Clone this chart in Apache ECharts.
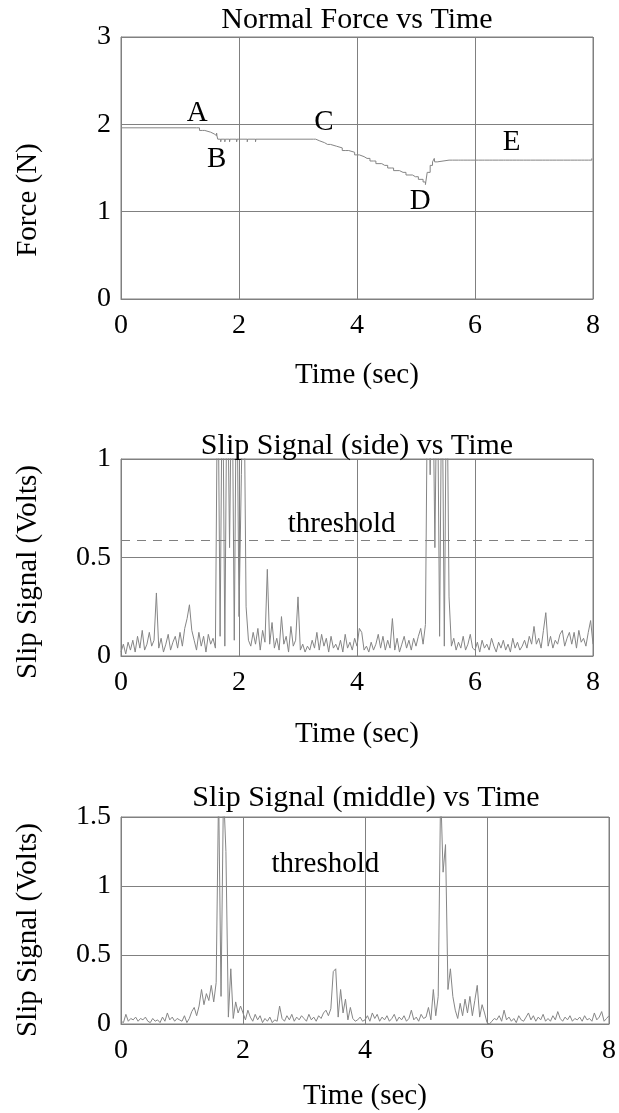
<!DOCTYPE html>
<html>
<head>
<meta charset="utf-8">
<script src="https://cdn.jsdelivr.net/npm/echarts@6/dist/echarts.min.js"></script>
<style>
  html, body { margin: 0; padding: 0; background: #fff; }
  #chart { width: 619px; height: 1113px; }
</style>
</head>
<body>
<div id="chart"></div>
<script>
// sampling step of the two slip signals (sec)
var timeStep = 0.04;

// normal force: [time, level] where the level changes (held until next point)
var forceSteps = [
  [0.00, 1.96], [1.33, 1.93], [1.42, 1.91], [1.52, 1.89], [1.58, 1.87], [1.64, 1.83],
  [3.30, 1.81], [3.37, 1.79], [3.45, 1.77], [3.55, 1.75], [3.65, 1.73], [3.75, 1.70],
  [3.86, 1.68], [3.96, 1.65], [4.04, 1.63], [4.12, 1.61], [4.22, 1.58], [4.32, 1.55],
  [4.42, 1.53], [4.52, 1.50], [4.62, 1.47], [4.72, 1.45], [4.83, 1.42], [4.94, 1.40],
  [5.04, 1.37], [5.12, 1.34], [5.19, 1.45], [5.24, 1.53], [5.28, 1.57], [5.36, 1.59],
  [8.00, 1.59]
];
// single-sample glitches on the force trace: [time, value]
var forceTicks = [
  [1.28, 1.98], [1.38, 1.95], [1.62, 1.90],
  [1.69, 1.80], [1.76, 1.80], [1.84, 1.80], [1.96, 1.80], [2.14, 1.80], [2.28, 1.80],
  [3.22, 1.85], [3.26, 1.85], [3.50, 1.76], [3.80, 1.71], [4.17, 1.62], [4.28, 1.59],
  [4.47, 1.54], [4.58, 1.51], [4.78, 1.46], [4.99, 1.41], [5.16, 1.31], [5.31, 1.61],
  [5.56, 1.61], [5.62, 1.61], [5.66, 1.61], [5.72, 1.61], [5.76, 1.61], [5.80, 1.61],
  [5.88, 1.61], [5.93, 1.61], [6.06, 1.61], [6.12, 1.61], [6.16, 1.61], [6.24, 1.61],
  [6.30, 1.61], [6.40, 1.61], [6.48, 1.61], [6.52, 1.61], [6.58, 1.61], [6.64, 1.61],
  [6.70, 1.61], [6.76, 1.61], [6.82, 1.61], [6.88, 1.61], [6.94, 1.61], [7.02, 1.61],
  [7.14, 1.61], [7.20, 1.61], [7.26, 1.61], [7.32, 1.61], [7.38, 1.61], [7.44, 1.61],
  [7.50, 1.61], [7.56, 1.61], [7.62, 1.61], [7.68, 1.61], [7.74, 1.61], [7.80, 1.61],
  [7.86, 1.61], [7.92, 1.61], [7.98, 1.61]
];
var forceLabels = ['A', 'B', 'C', 'D', 'E'];
var forceLabelTime = [1.29, 1.62, 3.44, 5.07, 6.62];
var forceLabelValue = [2.13, 1.60, 2.02, 1.12, 1.79];

// slip signal (side), one value every timeStep from 0 to 8 s
var slipSide = [
  0.02,0.06,0.01,0.07,0.03,0.08,0.02,0.10,0.04,0.13,0.03,0.06,0.12,0.05,0.08,0.32,0.04,0.09,0.02,0.06,0.11,0.03,0.07,0.10,0.04,
  0.12,0.05,0.14,0.19,0.26,0.13,0.08,0.03,0.12,0.05,0.10,0.02,0.11,0.06,0.09,0.04,
  1.6,0.10,1.6,0.05,1.6,0.55,1.6,0.08,1.6,0.20,0.92,1.6,0.25,
  0.08,0.05,0.12,0.06,0.14,0.03,0.13,0.07,0.44,0.06,0.17,0.04,0.09,0.03,0.20,0.06,0.10,0.02,0.15,0.05,0.08,
  0.30,0.03,0.06,0.02,0.05,0.03,0.08,0.04,0.12,0.03,0.11,0.05,0.09,0.02,0.10,0.04,0.06,0.03,0.08,0.02,0.11,0.04,0.07,0.03,0.09,
  0.05,0.14,0.12,0.03,0.05,0.02,0.07,0.03,0.06,0.11,0.04,0.10,0.03,0.08,0.04,0.19,0.03,0.09,0.02,0.06,0.10,0.04,0.08,0.03,0.09,
  0.05,0.10,0.14,0.06,0.16,1.6,0.92,1.6,0.55,1.6,0.10,1.6,0.05,1.6,0.30,0.05,0.09,0.03,0.07,0.04,0.10,0.03,0.06,0.11,0.04,
  0.03,0.07,0.02,0.08,0.04,0.06,0.03,0.09,0.05,0.02,0.07,0.04,0.08,0.03,0.06,0.02,0.09,0.04,0.07,0.03,0.05,0.08,0.04,0.10,0.06,
  0.15,0.06,0.09,0.04,0.13,0.22,0.05,0.10,0.04,0.08,0.06,0.11,0.13,0.05,0.09,0.12,0.06,0.12,0.04,0.13,0.07,0.09,0.05,0.12,0.18,0.06
];
var sideThreshold = 0.59;

// slip signal (middle), one value every timeStep from 0 to 8 s
var slipMiddle = [
  0.02,0.01,0.07,0.02,0.04,0.03,0.05,0.02,0.04,0.03,0.05,0.02,0.01,0.04,0.02,0.03,0.01,0.05,0.02,0.08,0.03,0.05,0.02,0.04,0.03,
  0.02,0.06,0.01,0.04,0.09,0.12,0.06,0.13,0.25,0.14,0.22,0.17,0.28,0.16,0.30,
  1.7,0.20,1.7,1.25,0.05,0.40,
  0.04,0.16,0.08,0.13,
  0.08,0.03,0.10,0.05,0.02,0.07,0.03,0.06,0.01,0.04,0.02,0.05,0.01,0.03,0.02,0.13,0.04,0.02,0.06,0.03,0.07,0.02,0.05,0.03,0.06,
  0.04,0.02,0.07,0.03,0.05,0.02,0.06,0.04,0.08,0.10,0.06,0.11,0.38,0.40,0.05,0.25,0.08,0.18,0.03,0.12,0.04,0.02,0.03,0.05,0.02,
  0.03,0.06,0.02,0.08,0.04,0.07,0.02,0.05,0.03,0.06,0.02,0.04,0.07,0.02,0.05,0.03,0.06,0.02,0.04,0.10,0.03,0.05,0.02,0.07,0.04,
  0.05,0.12,0.03,0.25,0.06,0.20,1.7,1.10,1.30,0.25,0.40,0.20,0.10,0.04,0.15,0.06,0.18,0.08,0.20,0.06,0.17,0.28,0.05,0.14,0.08,
  0.01,0.00,0.02,0.04,0.03,0.06,0.02,0.10,0.03,0.05,0.02,0.04,0.01,0.06,0.03,0.02,0.05,0.08,0.03,0.06,0.02,0.05,0.03,0.07,0.02,
  0.04,0.02,0.06,0.03,0.09,0.04,0.02,0.05,0.03,0.06,0.02,0.04,0.03,0.05,0.02,0.06,0.03,0.04,0.02,0.08,0.03,0.05,0.09,0.02,0.04,0.06
];

var thresholdTime = [3.74, 3.35];
var thresholdValue = [0.67, 1.16];

var gray = '#808080';
var font = 'Liberation Serif';

function withTime (values) {
  return values.map(function (v, i) { return [+(i * timeStep).toFixed(2), v]; });
}

// merge the glitches into the step trace as very narrow pulses
function buildForce () {
  var pts = forceSteps.map(function (p) { return { t: p[0], v: p[1] }; });
  forceTicks.forEach(function (tk) {
    var level = forceSteps[0][1];
    forceSteps.forEach(function (p) { if (p[0] <= tk[0]) level = p[1]; });
    pts.push({ t: tk[0], v: tk[1], o: 0 });
    pts.push({ t: tk[0] + 0.006, v: level, o: 1 });
  });
  pts.sort(function (a, b) { return a.t - b.t || (a.o || 0) - (b.o || 0); });
  return pts.map(function (p) { return [p.t, p.v]; });
}

function xAxis (gi, gap) {
  return {
    type: 'value', gridIndex: gi, min: 0, max: 8, interval: 2,
    name: 'Time (sec)', nameLocation: 'middle', nameGap: gap,
    nameTextStyle: { fontFamily: font, fontSize: 29, color: '#000' },
    axisLine: { show: true, lineStyle: { color: gray } },
    axisTick: { show: false },
    axisLabel: { margin: 13, fontFamily: font, fontSize: 28, color: '#000' },
    splitLine: { show: true, lineStyle: { color: gray, width: 1 } }
  };
}
function yAxis (gi, max, interval) {
  return {
    type: 'value', gridIndex: gi, min: 0, max: max, interval: interval,
    axisLine: { show: true, lineStyle: { color: gray } },
    axisTick: { show: false },
    axisLabel: { margin: 10, fontFamily: font, fontSize: 28, color: '#000' },
    splitLine: { show: true, lineStyle: { color: gray, width: 1 } }
  };
}
function title (text, cx, top) {
  return {
    text: text, left: cx, top: top, textAlign: 'center', padding: 0,
    textStyle: { fontFamily: font, fontSize: 30, fontWeight: 'normal', color: '#000' }
  };
}
function yName (text, x, y) {
  return {
    type: 'text', x: x, y: y, rotation: Math.PI / 2,
    style: { text: text, font: '29px "' + font + '"', fill: '#000', align: 'center', verticalAlign: 'middle' }
  };
}
function textMarks (xi, names, times, values) {
  return {
    type: 'scatter', xAxisIndex: xi, yAxisIndex: xi, symbolSize: 0, silent: true,
    itemStyle: { opacity: 1 },
    data: names.map(function (n, i) { return { name: n, value: [times[i], values[i]] }; }),
    label: { show: true, position: 'inside', formatter: '{b}', fontFamily: font, fontSize: 29, color: '#000' }
  };
}
var lineStyle = { color: '#858585', width: 1 };

var chart = echarts.init(document.getElementById('chart'));
chart.setOption({
  animation: false,
  backgroundColor: '#fff',
  title: [
    title('Normal Force vs Time', 357, 5),
    title('Slip Signal (side) vs Time', 357, 431),
    title('Slip Signal (middle) vs Time', 366, 783)
  ],
  grid: [
    { left: 121, top: 37, width: 472, height: 262, show: true, borderColor: gray, borderWidth: 1 },
    { left: 121, top: 459, width: 472, height: 197, show: true, borderColor: gray, borderWidth: 1 },
    { left: 121, top: 817, width: 490, height: 207, show: true, borderColor: gray, borderWidth: 1 }
  ],
  xAxis: [xAxis(0, 62), xAxis(1, 64), xAxis(2, 58)],
  yAxis: [yAxis(0, 3, 1), yAxis(1, 1, 0.5), yAxis(2, 1.5, 0.5)],
  graphic: [
    yName('Force (N)', 28, 200),
    yName('Slip Signal (Volts)', 28, 572),
    yName('Slip Signal (Volts)', 28, 930)
  ],
  series: [
    {
      type: 'line', xAxisIndex: 0, yAxisIndex: 0, step: 'end', symbol: 'none',
      data: buildForce(), lineStyle: lineStyle, clip: true
    },
    textMarks(0, forceLabels, forceLabelTime, forceLabelValue),
    {
      type: 'line', xAxisIndex: 1, yAxisIndex: 1, symbol: 'none',
      data: withTime(slipSide), lineStyle: lineStyle, clip: true,
      markLine: {
        silent: true, symbol: 'none', label: { show: false },
        lineStyle: { color: gray, width: 1, type: [9, 7] },
        data: [{ yAxis: sideThreshold }]
      }
    },
    textMarks(1, ['threshold'], [thresholdTime[0]], [thresholdValue[0]]),
    {
      type: 'line', xAxisIndex: 2, yAxisIndex: 2, symbol: 'none',
      data: withTime(slipMiddle), lineStyle: lineStyle, clip: true
    },
    textMarks(2, ['threshold'], [thresholdTime[1]], [thresholdValue[1]])
  ]
});
</script>
</body>
</html>
